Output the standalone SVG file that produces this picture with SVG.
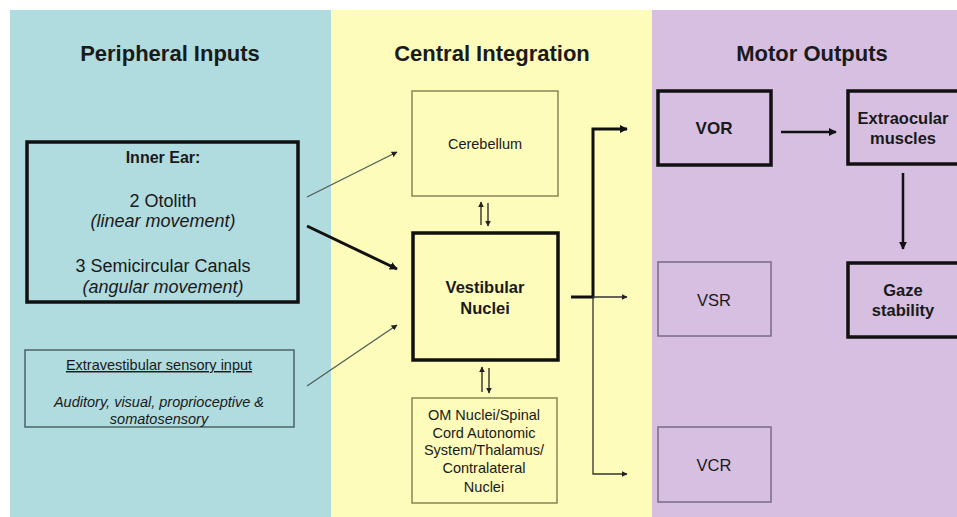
<svg xmlns="http://www.w3.org/2000/svg" width="957" height="517" viewBox="0 0 957 517">
<style>
text{font-family:"Liberation Sans",Arial,sans-serif;fill:#1a1a1a;text-anchor:middle}
.title{font-size:22px;font-weight:bold}
.b{font-weight:bold}
.thick{fill:none;stroke:#111;stroke-width:3.5}
.thinY{fill:none;stroke:#8a8456;stroke-width:1.5}
.thinP{fill:none;stroke:#7a6a8c;stroke-width:1.5}
.thinT{fill:none;stroke:#4e6466;stroke-width:1.5}
.c{fill:none;stroke:#111}
</style>
<defs>
<marker id="ah" viewBox="0 0 10 10" refX="9" refY="5" markerWidth="8" markerHeight="8" markerUnits="userSpaceOnUse" orient="auto"><path d="M0,0 L10,5 L0,10 z" fill="#111"/></marker>
<marker id="ahs" viewBox="0 0 10 10" refX="9" refY="5" markerWidth="6" markerHeight="6" markerUnits="userSpaceOnUse" orient="auto"><path d="M0,0 L10,5 L0,10 z" fill="#222"/></marker>
</defs>
<rect x="0" y="0" width="957" height="517" fill="#ffffff"/>
<rect x="10" y="10" width="321" height="507" fill="#b0dbdf"/>
<rect x="331" y="10" width="321" height="507" fill="#fdfcbb"/>
<rect x="652" y="10" width="305" height="507" fill="#d6bfe1"/>
<text class="title" x="170" y="61">Peripheral Inputs</text>
<text class="title" x="492" y="61">Central Integration</text>
<text class="title" x="812" y="61">Motor Outputs</text>

<g id="inner-ear">
<rect class="thick" x="27" y="142" width="271" height="160"/>
<text class="b" x="163" y="163" font-size="16">Inner Ear:</text>
<text x="163" y="207" font-size="18">2 Otolith</text>
<text x="163" y="227" font-size="18" font-style="italic">(linear movement)</text>
<text x="163" y="272" font-size="18">3 Semicircular Canals</text>
<text x="163" y="293" font-size="18" font-style="italic">(angular movement)</text>
</g>
<g id="extravestibular">
<rect class="thinT" x="25" y="350" width="269" height="77"/>
<text x="159" y="370" font-size="14.5" text-decoration="underline">Extravestibular sensory input</text>
<text x="159" y="407" font-size="14.5" font-style="italic">Auditory, visual, proprioceptive &amp;</text>
<text x="159" y="424" font-size="14.5" font-style="italic">somatosensory</text>
</g>
<g id="cerebellum">
<rect class="thinY" x="412" y="91" width="146" height="105"/>
<text x="485" y="149" font-size="14.5">Cerebellum</text>
</g>
<g id="vestibular-nuclei">
<rect class="thick" x="413" y="233" width="145" height="127"/>
<text class="b" x="485" y="293" font-size="16.5">Vestibular</text>
<text class="b" x="485" y="314" font-size="16.5">Nuclei</text>
</g>
<g id="om-nuclei">
<rect class="thinY" x="412" y="398" width="145" height="105"/>
<text x="484" y="420" font-size="14.5">OM Nuclei/Spinal</text>
<text x="484" y="438" font-size="14.5">Cord Autonomic</text>
<text x="484" y="455" font-size="14.5">System/Thalamus/</text>
<text x="484" y="473" font-size="14.5">Contralateral</text>
<text x="484" y="492" font-size="14.5">Nuclei</text>
</g>
<g id="vor">
<rect class="thick" x="658" y="91" width="113" height="74"/>
<text class="b" x="714" y="134" font-size="17">VOR</text>
</g>
<g id="vsr">
<rect class="thinP" x="658" y="262" width="113" height="74"/>
<text x="714" y="306" font-size="16.5">VSR</text>
</g>
<g id="vcr">
<rect class="thinP" x="658" y="427" width="113" height="75"/>
<text x="714" y="471" font-size="16.5">VCR</text>
</g>
<g id="extraocular">
<rect class="thick" x="848" y="91" width="115" height="73"/>
<text class="b" x="903" y="124" font-size="16.5">Extraocular</text>
<text class="b" x="903" y="144" font-size="16.5">muscles</text>
</g>
<g id="gaze-stability">
<rect class="thick" x="848" y="263" width="115" height="74"/>
<text class="b" x="903" y="296" font-size="16.5">Gaze</text>
<text class="b" x="903" y="316" font-size="16.5">stability</text>
</g>

<g id="connectors">
<line x1="307" y1="197" x2="397" y2="152" stroke="#4e5e58" stroke-width="1.3" marker-end="url(#ahs)"/>
<line x1="307" y1="226" x2="397" y2="269" stroke="#111" stroke-width="3" marker-end="url(#ah)"/>
<line x1="307" y1="386" x2="397" y2="325" stroke="#4e5e58" stroke-width="1.3" marker-end="url(#ahs)"/>
<line x1="481" y1="225" x2="481" y2="202" stroke="#222" stroke-width="1.3" marker-end="url(#ahs)"/>
<line x1="488" y1="203" x2="488" y2="226" stroke="#222" stroke-width="1.3" marker-end="url(#ahs)"/>
<line x1="482" y1="392" x2="482" y2="367" stroke="#222" stroke-width="1.3" marker-end="url(#ahs)"/>
<line x1="489" y1="368" x2="489" y2="393" stroke="#222" stroke-width="1.3" marker-end="url(#ahs)"/>
<path d="M571,297 H593 V129 H627" class="c" stroke-width="3" marker-end="url(#ah)"/>
<line x1="593" y1="297" x2="627" y2="297" stroke="#333" stroke-width="1.3" marker-end="url(#ahs)"/>
<path d="M593,297 V474 H627" fill="none" stroke="#333" stroke-width="1.3" marker-end="url(#ahs)"/>
<line x1="781" y1="132" x2="836" y2="132" stroke="#111" stroke-width="2.5" marker-end="url(#ah)"/>
<line x1="903" y1="173" x2="903" y2="249" stroke="#111" stroke-width="2.5" marker-end="url(#ah)"/>
</g>
</svg>
